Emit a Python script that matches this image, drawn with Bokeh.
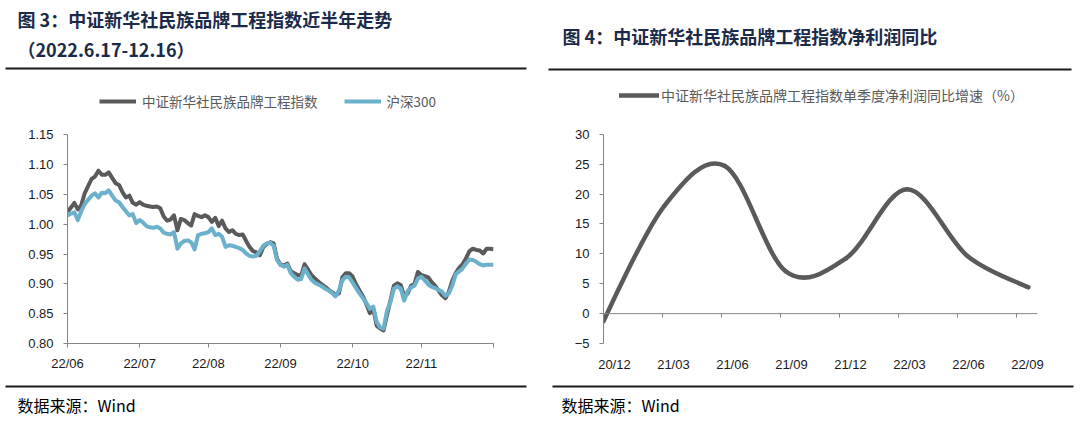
from bokeh.plotting import figure
from bokeh.models import (Range1d, FixedTicker, Label, BoxAnnotation, Legend, LegendItem,
                          PrintfTickFormatter, ColumnDataSource, Span)
from bokeh.layouts import row, column
from bokeh.embed import file_html
from bokeh.resources import INLINE

# ---------------- data ----------------
left_tick_labels = ["22/06", "22/07", "22/08", "22/09", "22/10", "22/11"]
brand_index = [
    1.021, 1.028, 1.036, 1.025, 1.032, 1.052, 1.064, 1.076, 1.080, 1.090,
    1.083, 1.083, 1.087, 1.078, 1.069, 1.066, 1.054, 1.045, 1.048, 1.036,
    1.033, 1.037, 1.033, 1.031, 1.030, 1.029, 1.030, 1.027, 1.013, 1.006,
    1.008, 1.015, 0.990, 1.009, 1.007, 1.002, 0.998, 1.017, 1.014, 1.012,
    1.015, 1.012, 1.004, 1.011, 0.997, 1.006, 0.993, 0.987, 0.990, 0.984,
    0.982, 0.983, 0.972, 0.962, 0.955, 0.953, 0.948, 0.962, 0.967, 0.970,
    0.968, 0.942, 0.932, 0.931, 0.934, 0.921, 0.918, 0.915, 0.914, 0.933,
    0.924, 0.915, 0.909, 0.904, 0.899, 0.895, 0.890, 0.886, 0.882, 0.884,
    0.911, 0.918, 0.918, 0.912, 0.899, 0.889, 0.879, 0.866, 0.851, 0.858,
    0.830, 0.825, 0.822, 0.848, 0.872, 0.897, 0.901, 0.898, 0.879, 0.884,
    0.897, 0.900, 0.920, 0.915, 0.913, 0.911, 0.903, 0.897, 0.889, 0.881,
    0.876, 0.887, 0.905, 0.918, 0.927, 0.933, 0.943, 0.955, 0.959, 0.957,
    0.956, 0.951, 0.959, 0.959, 0.958,
]
hs300 = [
    1.015, 1.018, 1.020, 1.007, 1.022, 1.034, 1.041, 1.048, 1.052, 1.045,
    1.053, 1.052, 1.057, 1.048, 1.040, 1.037, 1.029, 1.022, 1.015, 1.017,
    1.002, 1.007, 1.003, 0.997, 0.995, 0.994, 0.996, 0.993, 0.986, 0.984,
    0.983, 0.987, 0.959, 0.968, 0.972, 0.973, 0.970, 0.958, 0.982, 0.984,
    0.985, 0.987, 0.993, 0.982, 0.984, 0.979, 0.962, 0.965, 0.964, 0.962,
    0.960, 0.957, 0.951, 0.947, 0.946, 0.947, 0.955, 0.964, 0.968, 0.969,
    0.964, 0.940, 0.932, 0.929, 0.932, 0.918, 0.912, 0.907, 0.908, 0.926,
    0.916, 0.907, 0.902, 0.899, 0.896, 0.892, 0.889, 0.885, 0.879, 0.889,
    0.906, 0.912, 0.911, 0.902, 0.893, 0.884, 0.876, 0.868, 0.858, 0.862,
    0.836, 0.827, 0.825, 0.855, 0.870, 0.892, 0.896, 0.892, 0.872, 0.888,
    0.894, 0.897, 0.909, 0.912, 0.906, 0.899, 0.895, 0.893, 0.890, 0.887,
    0.880, 0.884, 0.897, 0.916, 0.921, 0.926, 0.934, 0.941, 0.940, 0.937,
    0.933, 0.931, 0.932, 0.932, 0.932,
]
quarter_labels = ["20/12", "21/03", "21/06", "21/09", "21/12", "22/03", "22/06", "22/09"]
profit_yoy = [-1.3, 18.0, 24.7, 7.1, 9.3, 20.8, 9.6, 4.4]

# ---------------- styles ----------------
CJK = "Noto Sans CJK SC"
NUM = "Liberation Sans"
AXIS_C = "#868686"
DARK = "#5a5a5a"
BLUE = "#6bb1cc"
TITLE_C = "#1b2a48"
TOTAL_W = 1076
LEFT_W = 540
RIGHT_W = TOTAL_W - LEFT_W
TOP_H, MID_H, BOT_H = 75, 300, 43


def clean(p):
    p.outline_line_color = None
    p.border_fill_color = "white"
    p.background_fill_color = "white"


def band(height, y0):
    # decoration strip: frame covers the whole canvas, 1 data unit = 1 px, y downward
    p = figure(width=TOTAL_W, height=height, output_backend="svg", toolbar_location=None,
               x_range=Range1d(0, TOTAL_W), y_range=Range1d(y0 + height, y0),
               x_axis_type=None, y_axis_type=None, min_border=0)
    clean(p)
    return p


def style_axis(ax):
    ax.axis_line_color = AXIS_C
    ax.major_tick_line_color = AXIS_C
    ax.major_tick_in = 0
    ax.major_tick_out = 4
    ax.minor_tick_line_color = None
    ax.major_label_text_font = NUM
    ax.major_label_text_font_size = "13px"
    ax.major_label_text_color = "#1a1a1a"


def hline(p, x0, x1, y, t=2):
    p.add_layout(BoxAnnotation(left=x0, right=x1, top=y - t / 2, bottom=y + t / 2,
                               fill_color="#1a1a1a", fill_alpha=1.0, line_color=None))


def text(p, s, x, y, size, bold=False, color="#000000", font=CJK):
    p.add_layout(Label(x=x, y=y, text=s, text_font=font, text_font_size=size,
                       text_font_style="bold" if bold else "normal",
                       text_color=color, text_baseline="middle", text_align="left"))


# ---------------- title strip ----------------
top = band(TOP_H, 0)
text(top, "图 3：中证新华社民族品牌工程指数近半年走势", 17, 18, "18px", bold=True, color=TITLE_C)
text(top, "（2022.6.17-12.16）", 17, 48, "18px", bold=True, color=TITLE_C)
hline(top, 5, 526, 68)
text(top, "图 4：中证新华社民族品牌工程指数净利润同比", 562, 35, "18px", bold=True, color=TITLE_C)
hline(top, 548, 1071, 69)

# ---------------- left chart ----------------
n = len(brand_index)
xs = list(range(n))
src = ColumnDataSource(dict(x=xs, brand=brand_index, hs=hs300))
PX_PER_UNIT_L = 596.0
p1 = figure(width=LEFT_W, height=MID_H, output_backend="svg", toolbar_location=None,
            x_range=Range1d(0, n - 1), y_range=Range1d(0.80, 0.80 + 268 / PX_PER_UNIT_L),
            min_border_left=67, min_border_right=LEFT_W - 493, min_border_top=0, min_border_bottom=32)
clean(p1)
p1.xgrid.visible = False
p1.ygrid.visible = False
r_dark = p1.line("x", "brand", source=src, line_color=DARK, line_width=4, line_join="round")
r_blue = p1.line("x", "hs", source=src, line_color=BLUE, line_width=4, line_join="round")

step = (n - 1) / 6
ltick = [round(i * step) for i in range(7)]
p1.xaxis.ticker = FixedTicker(ticks=ltick)
p1.xaxis.major_label_overrides = {t: (left_tick_labels[i] if i < len(left_tick_labels) else "")
                                  for i, t in enumerate(ltick)}
p1.yaxis.ticker = FixedTicker(ticks=[0.80, 0.85, 0.90, 0.95, 1.00, 1.05, 1.10, 1.15])
p1.yaxis.formatter = PrintfTickFormatter(format="%.2f")
p1.yaxis.bounds = (0.80, 1.15)
style_axis(p1.xaxis[0])
style_axis(p1.yaxis[0])
p1.xaxis.major_label_standoff = 8
p1.yaxis.major_label_standoff = 10

leg1 = Legend(items=[LegendItem(label="中证新华社民族品牌工程指数", renderers=[r_dark]),
                     LegendItem(label="沪深300", renderers=[r_blue])],
              orientation="horizontal", location=(32, 232), glyph_width=37, glyph_height=14,
              label_height=20, label_standoff=6, spacing=26, padding=0, margin=0,
              border_line_color=None, background_fill_alpha=0,
              label_text_font=CJK, label_text_font_size="13.5px", label_text_color="#595959")
p1.add_layout(leg1)

# ---------------- right chart ----------------
m = len(profit_yoy)
qx = list(range(m))
cx0, cy0, cx1, cy1 = [], [], [], []
for i in range(m - 1):
    a = max(i - 1, 0)
    b = min(i + 2, m - 1)
    f0 = 0 if i == 0 else 1 / 6
    cx0.append(qx[i] + (qx[i + 1] - qx[a]) * f0)
    cy0.append(profit_yoy[i] + (profit_yoy[i + 1] - profit_yoy[a]) * f0)
    cx1.append(qx[i + 1] - (qx[b] - qx[i]) / 6)
    cy1.append(profit_yoy[i + 1] - (profit_yoy[b] - profit_yoy[i]) / 6)
bsrc = ColumnDataSource(dict(x0=qx[:-1], y0=profit_yoy[:-1], x1=qx[1:], y1=profit_yoy[1:],
                             cx0=cx0, cy0=cy0, cx1=cx1, cy1=cy1))

PX_PER_Q = 60.7
PX_PER_UNIT_R = 6.0
R_LEFT = 603 - LEFT_W
R_RIGHT = RIGHT_W - (1037 - LEFT_W)
FRAME_W_R = RIGHT_W - R_LEFT - R_RIGHT
FRAME_H_R = MID_H - 31
p2 = figure(width=RIGHT_W, height=MID_H, output_backend="svg", toolbar_location=None,
            x_range=Range1d(0, FRAME_W_R / PX_PER_Q),
            y_range=Range1d(-5, -5 + FRAME_H_R / PX_PER_UNIT_R),
            min_border_left=R_LEFT, min_border_right=R_RIGHT, min_border_top=0, min_border_bottom=31)
clean(p2)
p2.xgrid.visible = False
p2.ygrid.visible = False

# horizontal axis line at zero with downward tick marks
p2.add_layout(Span(location=0, dimension="width", line_color=AXIS_C, line_width=1))
spacing_q = 59 / PX_PER_Q
tick_pos = [i * spacing_q for i in range(1, m)]
p2.segment(x0=tick_pos, x1=tick_pos, y0=[0] * len(tick_pos), y1=[-4 / PX_PER_UNIT_R] * len(tick_pos),
           line_color=AXIS_C, line_width=1)

r_p = p2.bezier(x0="x0", y0="y0", x1="x1", y1="y1", cx0="cx0", cy0="cy0", cx1="cx1", cy1="cy1",
                source=bsrc, line_color=DARK, line_width=4.5, line_cap="round")

label_pos = [i * spacing_q + 0.18 for i in range(m)]
xa = p2.xaxis[0]
xa.ticker = FixedTicker(ticks=label_pos)
xa.major_label_overrides = {t: quarter_labels[i] for i, t in enumerate(label_pos)}
style_axis(xa)
xa.axis_line_color = None
xa.major_tick_line_color = None
xa.major_tick_out = 0
xa.major_label_standoff = 13

p2.yaxis.ticker = FixedTicker(ticks=[-5, 0, 5, 10, 15, 20, 25, 30])
p2.yaxis.bounds = (-5, 30)
style_axis(p2.yaxis[0])
p2.yaxis.major_label_standoff = 10

leg2 = Legend(items=[LegendItem(label="中证新华社民族品牌工程指数单季度净利润同比增速（%）", renderers=[r_p])],
              orientation="horizontal", location=(16, 238), glyph_width=40, glyph_height=14,
              label_height=20, label_standoff=2, padding=0, margin=0,
              border_line_color=None, background_fill_alpha=0,
              label_text_font=CJK, label_text_font_size="14px", label_text_color="#595959")
p2.add_layout(leg2)

# ---------------- footer strip ----------------
bot = band(BOT_H, 375)
hline(bot, 5, 526, 386)
hline(bot, 552, 1073, 386)
text(bot, "数据来源：Wind", 17, 404, "16px")
text(bot, "数据来源：Wind", 561, 404, "16px")

layout = column(top, row(p1, p2), bot)
open("out.html", "w").write(file_html(layout, INLINE))
